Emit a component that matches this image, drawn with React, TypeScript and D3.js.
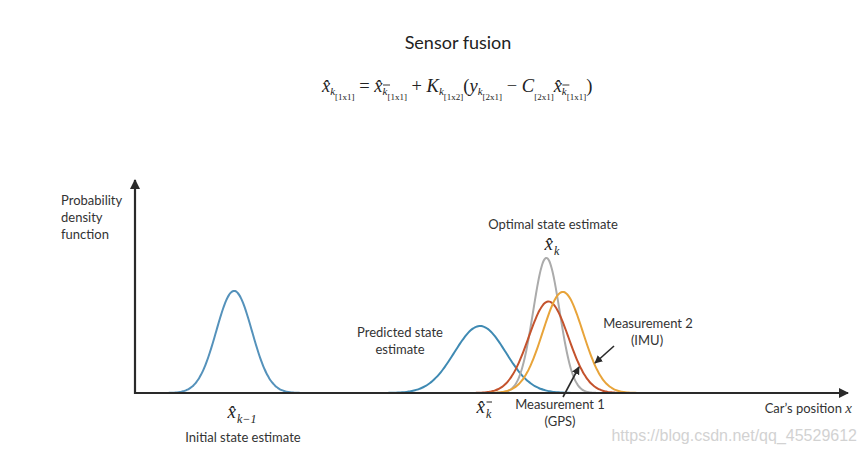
import React, { useLayoutEffect, useRef, useState } from "react";
import * as d3 from "d3";

// ---- data ----
const curveNames = ["Initial", "Predicted", "Optimal", "GPS", "IMU"];
const curveMeans = [13.9, 48.4, 57.7, 58.0, 60.0];
const curveSigmas = [2.5, 3.6, 1.85, 2.8, 2.8];
const curvePeaks = [0.48, 0.315, 0.635, 0.43, 0.475];
const curveColors = ["#5592bb", "#3f8ab3", "#ababab", "#c4532d", "#e8a43a"];

const W = 867;
const H = 453;

const xScale = d3.scaleLinear().domain([0, 100]).range([135, 848]);
const yScale = d3.scaleLinear().domain([0, 1]).range([393, 180]);

type Piece = { t: string; size: number; off: number; italic?: boolean; sup?: boolean };

const S = 18.5, S1 = 11, S2 = 9;
const formula: Piece[] = [
  { t: "x\u0302", size: S, off: 0, italic: true },
  { t: "k", size: S1, off: 3, italic: true },
  { t: "[1x1]", size: S2, off: 8 },
  { t: " = ", size: S, off: 0 },
  { t: "x\u0302", size: S, off: 0, italic: true },
  { t: "k", size: S1, off: 3, italic: true, sup: true },
  { t: "[1x1]", size: S2, off: 8 },
  { t: " + ", size: S, off: 0 },
  { t: "K", size: S, off: 0, italic: true },
  { t: "k", size: S1, off: 3, italic: true },
  { t: "[1x2]", size: S2, off: 8 },
  { t: "(", size: S, off: 0 },
  { t: "y", size: S, off: 0, italic: true },
  { t: "k", size: S1, off: 3, italic: true },
  { t: "[2x1]", size: S2, off: 8 },
  { t: " \u2212 ", size: S, off: 0 },
  { t: "C", size: S, off: 0, italic: true },
  { t: "[2x1]", size: S2, off: 8 },
  { t: "x\u0302", size: S, off: 0, italic: true },
  { t: "k", size: S1, off: 3, italic: true, sup: true },
  { t: "[1x1]", size: S2, off: 8 },
  { t: ")", size: S, off: 0 },
];

const mathFont = "'Liberation Serif', 'DejaVu Serif', serif";

function Formula({ x, y }: { x: number; y: number }) {
  const refs = useRef<(SVGTSpanElement | null)[]>([]);
  const [bars, setBars] = useState<{ x1: number; x2: number; y: number }[]>([]);
  useLayoutEffect(() => {
    const out: { x1: number; x2: number; y: number }[] = [];
    formula.forEach((p, i) => {
      const el = refs.current[i];
      if (p.sup && el) {
        const b = el.getBBox();
        out.push({ x1: b.x + 0.5, x2: b.x + b.width + 1.5, y: y - 7 });
      }
    });
    setBars(out);
  }, [x, y]);
  let prev = 0;
  return (
    <g>
      <text x={x} y={y} fontFamily={mathFont} fill="#222">
        {formula.map((p, i) => {
          const dy = p.off - prev;
          prev = p.off;
          return (
            <tspan
              key={i}
              ref={(el) => { refs.current[i] = el; }}
              dy={dy}
              fontSize={p.size}
              fontStyle={p.italic ? "italic" : "normal"}
              style={{ whiteSpace: "pre" }}
            >
              {p.t}
            </tspan>
          );
        })}
      </text>
      {bars.map((b, i) => (
        <line key={i} x1={b.x1} x2={b.x2} y1={b.y} y2={b.y} stroke="#222" strokeWidth={0.9} />
      ))}
    </g>
  );
}

function HatX({ x, y, sub, minus }: { x: number; y: number; sub: string; minus?: boolean }) {
  return (
    <g fontFamily={mathFont} fill="#222">
      <text x={x} y={y} fontSize={19} fontStyle="italic" textAnchor="end">{"x\u0302"}</text>
      {minus ? <line x1={x + 1.5} x2={x + 7} y1={y - 11} y2={y - 11} stroke="#222" strokeWidth={1} /> : null}
      <text x={x + 1} y={y + 5} fontSize={12} fontStyle="italic">{sub}</text>
    </g>
  );
}

export default function App() {
  const line = d3
    .line<[number, number]>()
    .x((d) => xScale(d[0]))
    .y((d) => yScale(d[1]))
    .curve(d3.curveBasis);

  const curves = curveNames.map((name, i) => {
    const m = curveMeans[i], s = curveSigmas[i], p = curvePeaks[i];
    const xs = d3.range(m - 4.2 * s, m + 4.2 * s + 0.001, s / 12);
    const pts = xs.map((x) => [x, p * Math.exp(-((x - m) ** 2) / (2 * s * s))] as [number, number]);
    return { name, d: line(pts) as string, color: curveColors[i] };
  });

  const order = [0, 1, 2, 3, 4];
  const labelFont = "Lato, 'Noto Sans', sans-serif";

  return (
    <svg width={W} height={H} style={{ position: "absolute", left: 0, top: 0, background: "#fff" }}>
      <defs>
        <marker id="ah" viewBox="0 0 10 10" refX="9" refY="5" markerWidth="10" markerHeight="10" markerUnits="userSpaceOnUse" orient="auto">
          <path d="M0,0 L10,5 L0,10 z" fill="#2a2a2a" />
        </marker>
        <marker id="ahs" viewBox="0 0 10 10" refX="9" refY="5" markerWidth="8" markerHeight="8" markerUnits="userSpaceOnUse" orient="auto">
          <path d="M0,0 L10,5 L0,10 z" fill="#2a2a2a" />
        </marker>
      </defs>
      <rect width={W} height={H} fill="#fff" />

      <text x={458} y={49} textAnchor="middle" fontFamily={labelFont} fontSize={18} fill="#222">Sensor fusion</text>
      <Formula x={322} y={92} />

      {order.map((i) => (
        <path key={i} d={curves[i].d} fill="none" stroke={curves[i].color} strokeWidth={2} />
      ))}

      {/* axes */}
      <line x1={xScale(0)} y1={yScale(0)} x2={xScale(100)} y2={yScale(0)} stroke="#2a2a2a" strokeWidth={2.2} markerEnd="url(#ah)" />
      <line x1={xScale(0)} y1={yScale(0) + 1} x2={xScale(0)} y2={yScale(1)} stroke="#2a2a2a" strokeWidth={2.2} markerEnd="url(#ah)" />

      {/* y axis label */}
      <g fontFamily={labelFont} fontSize={13} fill="#333">
        <text x={61} y={205}>Probability</text>
        <text x={61} y={222}>density</text>
        <text x={61} y={239}>function</text>
      </g>

      <g fontFamily={labelFont} fontSize={13} fill="#333" textAnchor="middle">
        <text x={553} y={229}>Optimal state estimate</text>
        <text x={400} y={337}>Predicted state</text>
        <text x={400} y={354}>estimate</text>
        <text x={648} y={328}>Measurement 2</text>
        <text x={647} y={345}>(IMU)</text>
        <text x={560} y={409}>Measurement 1</text>
        <text x={560} y={426}>(GPS)</text>
        <text x={243} y={442}>Initial state estimate</text>
      </g>
      <text x={852} y={413} textAnchor="end" fontFamily={labelFont} fontSize={13} fill="#333">
        Car’s position <tspan fontFamily={mathFont} fontStyle="italic" fontSize={15}>x</tspan>
      </text>

      <HatX x={553} y={250} sub="k" />
      <HatX x={485} y={413} sub="k" minus />
      <HatX x={236} y={418} sub="k−1" />

      {/* pointer arrows */}
      <line x1={614} y1={346} x2={595} y2={363} stroke="#2a2a2a" strokeWidth={1.6} markerEnd="url(#ahs)" />
      <line x1={563} y1={397} x2={579} y2={367} stroke="#2a2a2a" strokeWidth={1.6} markerEnd="url(#ahs)" />

      <text x={857} y={441} textAnchor="end" fontFamily="'Liberation Sans', Arial, sans-serif" fontSize={16} fill="#d2d2d2">
        https://blog.csdn.net/qq_45529612
      </text>
    </svg>
  );
}
